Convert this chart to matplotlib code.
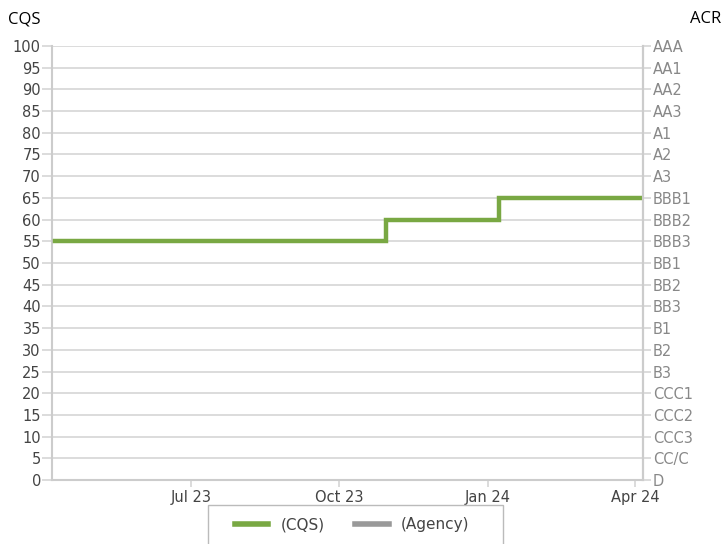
import matplotlib
matplotlib.use("Agg")
import matplotlib.pyplot as plt
from matplotlib.patches import Rectangle
from matplotlib.lines import Line2D
import datetime as dt

# Data
cqs_dates = ["2023-04-08", "2023-10-30", "2024-01-08", "2024-04-06"]
cqs_values = [55, 60, 65, 65]
x_tick_dates = ["2023-07-01", "2023-10-01", "2024-01-01", "2024-04-01"]
x_tick_labels = ["Jul 23", "Oct 23", "Jan 24", "Apr 24"]
left_ticks = list(range(0, 101, 5))
right_labels = ["D", "CC/C", "CCC3", "CCC2", "CCC1", "B3", "B2", "B1", "BB3", "BB2", "BB1",
                "BBB3", "BBB2", "BBB1", "A3", "A2", "A1", "AA3", "AA2", "AA1", "AAA"]
x_range = ["2023-04-06", "2024-04-06"]

to_dt = lambda s: dt.datetime.strptime(s, "%Y-%m-%d")

fig = plt.figure(figsize=(7.25, 5.44), dpi=100)
ax = fig.add_axes([52/725, 64/544, (643-52)/725, (480-46)/544])

green = "#79a843"
grid_c = "#d6d6d6"
ax.step([to_dt(d) for d in cqs_dates], cqs_values, where="post", color=green, lw=3.2,
        solid_joinstyle="miter", zorder=3)

ax.set_xlim(to_dt(x_range[0]), to_dt(x_range[1]))
ax.set_ylim(0, 100)
ax.set_yticks(left_ticks)
ax.set_yticklabels([str(v) for v in left_ticks], fontsize=10.5, color="#444444")
ax.set_xticks([to_dt(d) for d in x_tick_dates])
ax.set_xticklabels(x_tick_labels, fontsize=10.5, color="#444444")
ax.grid(axis="y", color=grid_c, lw=1.2)
ax.set_axisbelow(True)
ax.spines["top"].set_visible(False)
for s in ["left", "right", "bottom"]:
    ax.spines[s].set_color("#cccccc")
    ax.spines[s].set_linewidth(1.5)
ax.tick_params(axis="y", length=7, color=grid_c, width=1.2, pad=1)
ax.tick_params(axis="x", length=5, color=grid_c, width=1.2, pad=2)

ax2 = ax.twinx()
ax2.set_ylim(0, 100)
ax2.set_yticks(left_ticks)
ax2.set_yticklabels(right_labels, fontsize=10.5, color="#888888")
ax2.tick_params(axis="y", length=6, color=grid_c, width=1.2, pad=1)
for s in ["top", "left", "bottom"]:
    ax2.spines[s].set_visible(False)
ax2.spines["right"].set_color("#cccccc")
ax2.spines["right"].set_linewidth(1.5)

fig.text(8/725, 1 - 19/544, "CQS", fontsize=12, color="black", va="center", ha="left", family="Open Sans")
fig.text(721/725, 1 - 19/544, "ACR", fontsize=12, color="black", va="center", ha="right", family="Open Sans")

# Legend box (extends past the bottom)
rect = Rectangle((208/725, -0.05), (503-208)/725, 0.05 + (544-505)/544, transform=fig.transFigure,
                 facecolor="white", edgecolor="#bbbbbb", lw=1.0)
fig.patches.append(rect)
handles = [Line2D([0], [0], color=green, lw=4), Line2D([0], [0], color="#999999", lw=4)]
fig.legend(handles, ["(CQS)", "(Agency)"], loc="center", bbox_to_anchor=(352/725, 1 - 525/544),
           ncol=2, frameon=False, fontsize=11, handlelength=2.2, columnspacing=2.0,
           labelcolor="#444444")

fig.savefig("out.png", dpi=100)
